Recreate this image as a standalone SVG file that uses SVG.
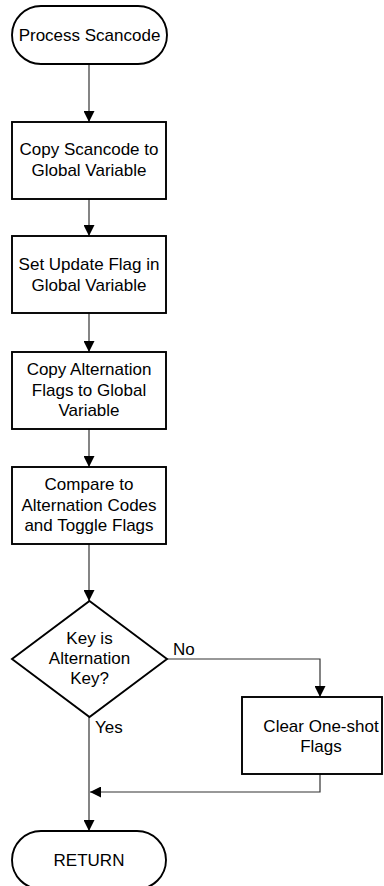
<svg xmlns="http://www.w3.org/2000/svg" width="384" height="886" viewBox="0 0 384 886">
  <style>
    .shape { fill: #ffffff; stroke: #000000; stroke-width: 1.9; }
    .label { font-family: "Liberation Sans", Arial, sans-serif; font-size: 17px; fill: #000000; text-anchor: middle; }
    .tag { font-family: "Liberation Sans", Arial, sans-serif; font-size: 17px; fill: #000000; }
    .wire { fill: none; stroke: #333333; stroke-width: 1.2; }
  </style>
  <defs>
    <marker id="arrow" markerWidth="11" markerHeight="11" refX="11" refY="5.5" orient="auto" markerUnits="userSpaceOnUse">
      <path d="M0,0 L11,5.5 L0,11 Z" fill="#000000"/>
    </marker>
  </defs>
  <rect width="384" height="886" fill="#ffffff"/>

  <g id="connectors">
    <line class="wire" x1="89" y1="64" x2="89" y2="122" marker-end="url(#arrow)"/>
    <line class="wire" x1="89" y1="199" x2="89" y2="236" marker-end="url(#arrow)"/>
    <line class="wire" x1="89" y1="313" x2="89" y2="352" marker-end="url(#arrow)"/>
    <line class="wire" x1="89" y1="429" x2="89" y2="467" marker-end="url(#arrow)"/>
    <line class="wire" x1="89" y1="544" x2="89" y2="601" marker-end="url(#arrow)"/>
    <polyline class="wire" points="167,659 320,659 320,697" marker-end="url(#arrow)"/>
    <line class="wire" x1="89" y1="717" x2="89" y2="831" marker-end="url(#arrow)"/>
    <polyline class="wire" points="320,774 320,792 90,792" marker-end="url(#arrow)"/>
    <text class="tag" x="173" y="655">No</text>
    <text class="tag" x="95" y="733">Yes</text>
  </g>

  <g id="start">
    <rect class="shape" x="12" y="6" width="155" height="58" rx="29" ry="29"/>
    <text class="label" x="89.5" y="41">Process Scancode</text>
  </g>

  <g id="copy-scancode">
    <rect class="shape" x="12" y="122" width="154" height="77"/>
    <text class="label" x="89" y="155">Copy Scancode to</text>
    <text class="label" x="89" y="176">Global Variable</text>
  </g>

  <g id="set-update-flag">
    <rect class="shape" x="12" y="236" width="154" height="77"/>
    <text class="label" x="89" y="270">Set Update Flag in</text>
    <text class="label" x="89" y="291">Global Variable</text>
  </g>

  <g id="copy-alternation">
    <rect class="shape" x="12" y="352" width="154" height="77"/>
    <text class="label" x="89" y="375">Copy Alternation</text>
    <text class="label" x="89" y="396">Flags to Global</text>
    <text class="label" x="89" y="416">Variable</text>
  </g>

  <g id="compare-toggle">
    <rect class="shape" x="12" y="467" width="154" height="77"/>
    <text class="label" x="89" y="490">Compare to</text>
    <text class="label" x="89" y="511">Alternation Codes</text>
    <text class="label" x="89" y="531">and Toggle Flags</text>
  </g>

  <g id="decision">
    <polygon class="shape" points="89.5,601 167,659 89.5,717 12,659"/>
    <text class="label" x="89.5" y="644">Key is</text>
    <text class="label" x="89.5" y="664">Alternation</text>
    <text class="label" x="89.5" y="684">Key?</text>
  </g>

  <g id="clear-oneshot">
    <rect class="shape" x="242" y="697" width="140" height="77"/>
    <text class="label" x="321" y="732">Clear One-shot</text>
    <text class="label" x="321" y="752">Flags</text>
  </g>

  <g id="return">
    <rect class="shape" x="12" y="831" width="154" height="58" rx="29" ry="29"/>
    <text class="label" x="89" y="866">RETURN</text>
  </g>
</svg>
